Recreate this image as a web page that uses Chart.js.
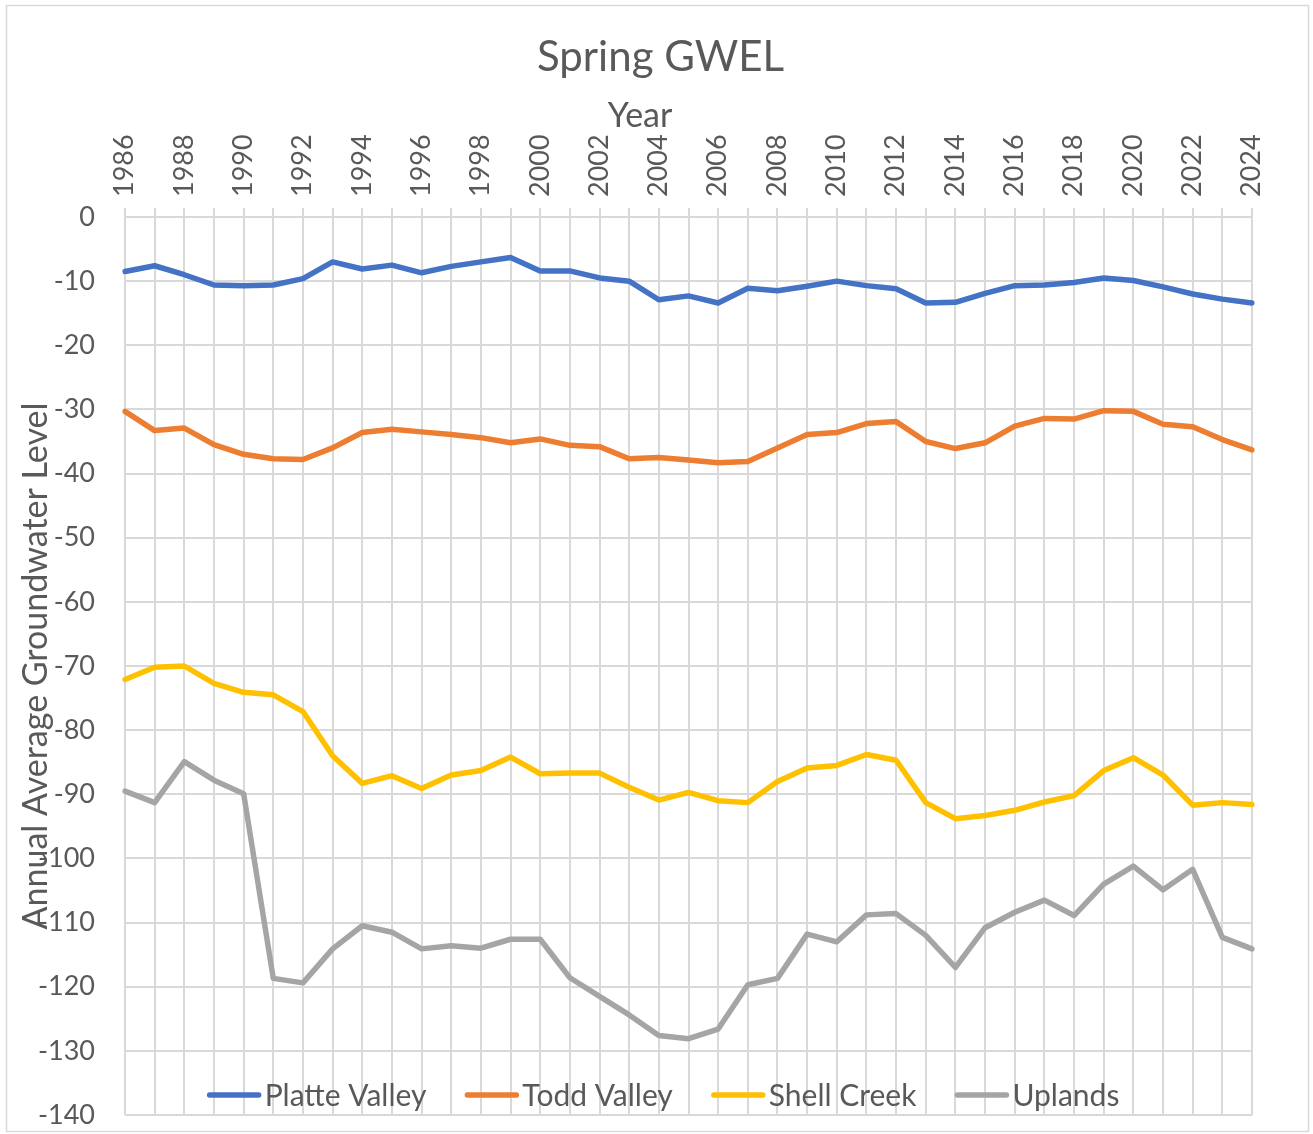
<!DOCTYPE html>
<html>
<head>
<meta charset="utf-8">
<title>Spring GWEL</title>
<script src="https://cdn.jsdelivr.net/npm/chart.js@4.4.1/dist/chart.umd.min.js"></script>
<style>
  html, body { margin: 0; padding: 0; background: #fff; }
  #wrap { width: 1313px; height: 1134px; }
</style>
</head>
<body>
<div id="wrap"><canvas id="gwelChart" width="1313" height="1134"></canvas></div>
<script>
// years on the top axis
var years = [1986, 1987, 1988, 1989, 1990, 1991, 1992, 1993, 1994, 1995,
  1996, 1997, 1998, 1999, 2000, 2001, 2002, 2003, 2004, 2005,
  2006, 2007, 2008, 2009, 2010, 2011, 2012, 2013, 2014, 2015,
  2016, 2017, 2018, 2019, 2020, 2021, 2022, 2023, 2024];

// spring groundwater levels
var platteValley = [-8.5, -7.6, -9.0, -10.6, -10.7, -10.6, -9.6, -7.0, -8.1, -7.5,
  -8.7, -7.7, -7.0, -6.3, -8.4, -8.4, -9.5, -10.0, -12.9, -12.3,
  -13.4, -11.1, -11.5, -10.8, -10.0, -10.7, -11.2, -13.4, -13.3, -11.9,
  -10.7, -10.6, -10.2, -9.5, -9.9, -10.9, -12.0, -12.8, -13.4];

var toddValley = [-30.3, -33.3, -32.9, -35.5, -37.0, -37.7, -37.8, -36.0, -33.6, -33.1,
  -33.5, -33.9, -34.4, -35.2, -34.6, -35.6, -35.8, -37.7, -37.5, -37.9,
  -38.3, -38.1, -36.0, -33.9, -33.6, -32.2, -31.9, -35.0, -36.1, -35.2,
  -32.6, -31.4, -31.5, -30.2, -30.3, -32.3, -32.7, -34.7, -36.3];

var shellCreek = [-72.1, -70.2, -70.0, -72.7, -74.1, -74.5, -77.1, -84.0, -88.3, -87.1,
  -89.1, -87.0, -86.3, -84.2, -86.8, -86.7, -86.7, -88.9, -90.9, -89.7,
  -91.0, -91.3, -88.0, -85.9, -85.5, -83.8, -84.7, -91.3, -93.8, -93.3,
  -92.5, -91.2, -90.2, -86.3, -84.3, -87.0, -91.7, -91.3, -91.6];

var uplands = [-89.5, -91.3, -84.9, -87.8, -89.9, -118.7, -119.4, -114.1, -110.5, -111.5,
  -114.1, -113.6, -114.0, -112.6, -112.6, -118.6, -121.5, -124.4, -127.6, -128.1,
  -126.6, -119.7, -118.7, -111.8, -113.0, -108.8, -108.6, -112.0, -117.0, -110.8,
  -108.4, -106.5, -108.9, -104.0, -101.2, -104.9, -101.7, -112.3, -114.1];

var seriesNames = ['Platte Valley', 'Todd Valley', 'Shell Creek', 'Uplands'];
var seriesColors = ['#4472C4', '#ED7D31', '#FFC000', '#A5A5A5'];

var textColor = '#595959';
var gridColor = '#d9d9d9';
var fontName = 'Lato, "Liberation Sans", sans-serif';

// legend sits inside the plot, near the bottom; "Year" sits above the year labels
var insideLegend = {
  id: 'insideLegend',
  afterDraw: function(chart) {
    var ctx = chart.ctx;
    var lineLen = 55, lineGap = 3, itemGap = 38;
    ctx.save();
    ctx.fillStyle = textColor;
    ctx.textAlign = 'center';
    ctx.textBaseline = 'middle';
    ctx.font = '34px ' + fontName;
    ctx.fillText('Year', 640, 116);

    ctx.font = '30px ' + fontName;
    var widths = chart.data.datasets.map(function(ds) {
      return lineLen + lineGap + ctx.measureText(ds.label).width;
    });
    var total = widths.reduce(function(a, b) { return a + b; }, 0) + itemGap * (widths.length - 1);
    var x = 663 - total / 2;
    var y = chart.chartArea.bottom - 20;
    chart.data.datasets.forEach(function(ds, i) {
      ctx.strokeStyle = ds.borderColor;
      ctx.lineWidth = 5.5;
      ctx.lineCap = 'round';
      ctx.beginPath();
      ctx.moveTo(x + 3, y);
      ctx.lineTo(x + lineLen - 3, y);
      ctx.stroke();
      ctx.fillStyle = textColor;
      ctx.textAlign = 'left';
      ctx.fillText(ds.label, x + lineLen + lineGap, y + 1);
      x += widths[i] + itemGap;
    });
    ctx.restore();
  }
};

// thin grey frame round the whole chart
var outerFrame = {
  id: 'outerFrame',
  beforeDraw: function(chart) {
    var ctx = chart.ctx;
    ctx.save();
    ctx.fillStyle = '#fff';
    ctx.fillRect(0, 0, chart.width, chart.height);
    ctx.strokeStyle = gridColor;
    ctx.lineWidth = 1.5;
    ctx.strokeRect(6.5, 5.5, 1302, 1126);
    ctx.restore();
  }
};

function makeSet(label, data, color) {
  return {
    label: label,
    data: data,
    borderColor: color,
    backgroundColor: color,
    borderWidth: 5.5,
    pointRadius: 0,
    pointHoverRadius: 0,
    tension: 0,
    borderCapStyle: 'round',
    borderJoinStyle: 'round',
    fill: false
  };
}

var ctx = document.getElementById('gwelChart').getContext('2d');
var myChart = new Chart(ctx, {
  type: 'line',
  data: {
    labels: years,
    datasets: [
      makeSet(seriesNames[0], platteValley, seriesColors[0]),
      makeSet(seriesNames[1], toddValley, seriesColors[1]),
      makeSet(seriesNames[2], shellCreek, seriesColors[2]),
      makeSet(seriesNames[3], uplands, seriesColors[3])
    ]
  },
  options: {
    responsive: false,
    animation: false,
    layout: {
      padding: { top: 10, left: 8, right: 0, bottom: 19 }
    },
    plugins: {
      legend: { display: false },
      tooltip: { enabled: false },
      title: {
        display: true,
        text: 'Spring GWEL',
        color: textColor,
        font: { family: fontName, size: 42, weight: 'normal', lineHeight: 1.2 },
        padding: { top: 22, bottom: 0 }
      }
    },
    scales: {
      x: {
        position: 'top',
        offset: false,
        grid: {
          color: gridColor,
          lineWidth: 2,
          drawTicks: true,
          tickLength: 9
        },
        border: { display: false },
        ticks: {
          color: textColor,
          font: { family: fontName, size: 27 },
          minRotation: 90,
          maxRotation: 90,
          autoSkip: false,
          padding: 11,
          labelOffset: 32,
          callback: function(value, index) {
            return index % 2 === 0 ? this.getLabelForValue(value) : '';
          }
        },
        afterFit: function(scale) {
          scale.height = 134.6;
          scale.paddingTop = 0;
          scale.paddingBottom = 0;
        }
      },
      y: {
        min: -140,
        max: 0,
        title: {
          display: true,
          text: 'Annual Average Groundwater Level',
          color: textColor,
          font: { family: fontName, size: 34, lineHeight: 1.2 },
          padding: { top: 8, bottom: 0 }
        },
        grid: {
          color: gridColor,
          lineWidth: 2,
          drawTicks: false
        },
        border: { display: false },
        ticks: {
          stepSize: 10,
          color: textColor,
          font: { family: fontName, size: 27 },
          padding: 30
        },
        afterFit: function(scale) {
          scale.width = 117;
          scale.paddingTop = 0;
          scale.paddingBottom = 0;
        }
      },
      // empty strip on the right so the title centres like the original
      yRight: {
        position: 'right',
        grid: { display: false },
        border: { display: false },
        ticks: { display: false },
        afterFit: function(scale) {
          scale.width = 61;
          scale.paddingTop = 0;
          scale.paddingBottom = 0;
        }
      }
    }
  },
  plugins: [outerFrame, insideLegend]
});
</script>
</body>
</html>
